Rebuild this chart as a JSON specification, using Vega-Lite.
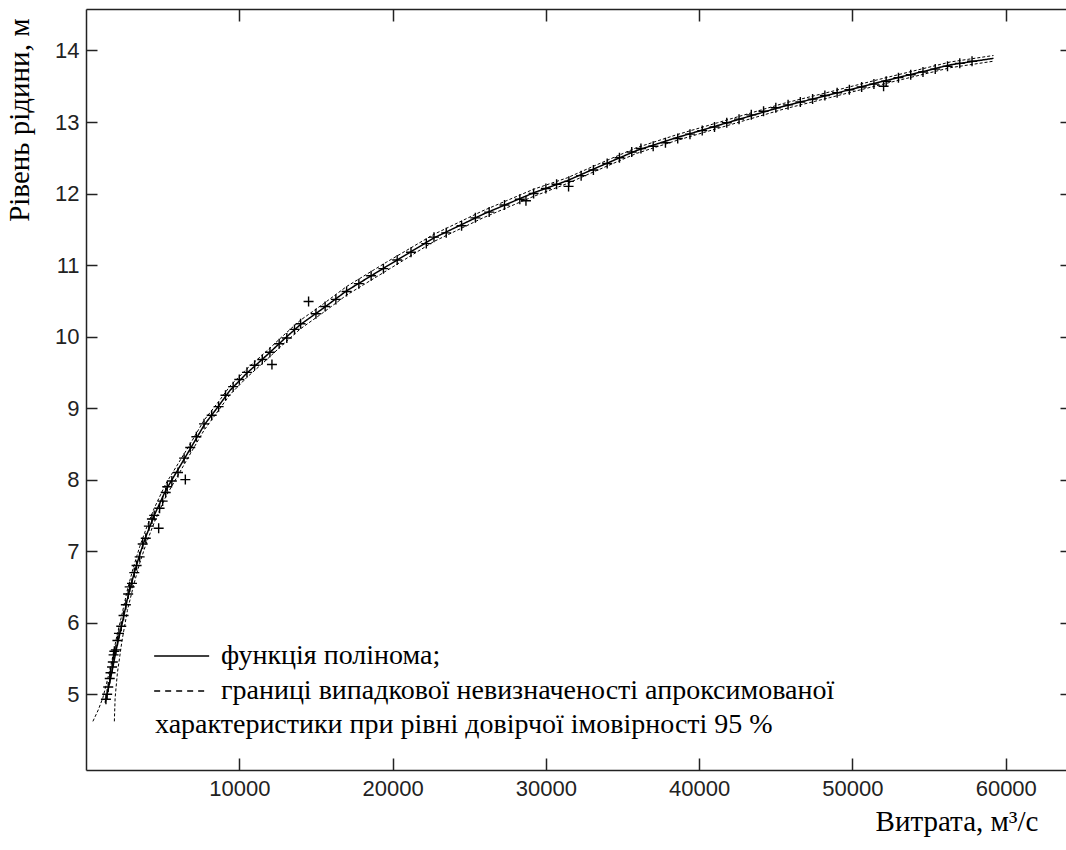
{
  "$schema": "https://vega.github.io/schema/vega-lite/v6.json",
  "width": 980,
  "height": 761,
  "autosize": "none",
  "padding": {"left": 86, "top": 9, "right": 0, "bottom": 80},
  "background": "white",
  "config": {
    "view": {"stroke": null},
    "axis": {"grid": false},
    "legend": {
      "labelFont": "Liberation Serif", "labelFontSize": 28, "labelColor": "black", "labelLimit": 0,
      "titleFont": "Liberation Serif", "titleFontSize": 28, "titleFontWeight": "normal", "titleColor": "black", "titleLimit": 0
    }
  },
  "datasets": {
    "curves": [
      {"part": "fit", "kind": "функція полінома;", "Q": 1250, "H": 4.88},
      {"part": "fit", "kind": "функція полінома;", "Q": 1450, "H": 5.07},
      {"part": "fit", "kind": "функція полінома;", "Q": 1700, "H": 5.32},
      {"part": "fit", "kind": "функція полінома;", "Q": 2000, "H": 5.65},
      {"part": "fit", "kind": "функція полінома;", "Q": 2350, "H": 5.98},
      {"part": "fit", "kind": "функція полінома;", "Q": 2700, "H": 6.33},
      {"part": "fit", "kind": "функція полінома;", "Q": 3100, "H": 6.66},
      {"part": "fit", "kind": "функція полінома;", "Q": 3500, "H": 6.95},
      {"part": "fit", "kind": "функція полінома;", "Q": 3900, "H": 7.2},
      {"part": "fit", "kind": "функція полінома;", "Q": 4450, "H": 7.5},
      {"part": "fit", "kind": "функція полінома;", "Q": 5200, "H": 7.85},
      {"part": "fit", "kind": "функція полінома;", "Q": 6000, "H": 8.14},
      {"part": "fit", "kind": "функція полінома;", "Q": 6800, "H": 8.43},
      {"part": "fit", "kind": "функція полінома;", "Q": 7700, "H": 8.76},
      {"part": "fit", "kind": "функція полінома;", "Q": 8650, "H": 9.03},
      {"part": "fit", "kind": "функція полінома;", "Q": 9400, "H": 9.25},
      {"part": "fit", "kind": "функція полінома;", "Q": 10500, "H": 9.49},
      {"part": "fit", "kind": "функція полінома;", "Q": 11800, "H": 9.74},
      {"part": "fit", "kind": "функція полінома;", "Q": 13000, "H": 9.98},
      {"part": "fit", "kind": "функція полінома;", "Q": 14000, "H": 10.17},
      {"part": "fit", "kind": "функція полінома;", "Q": 15500, "H": 10.4},
      {"part": "fit", "kind": "функція полінома;", "Q": 17000, "H": 10.64},
      {"part": "fit", "kind": "функція полінома;", "Q": 19600, "H": 10.98},
      {"part": "fit", "kind": "функція полінома;", "Q": 22700, "H": 11.38},
      {"part": "fit", "kind": "функція полінома;", "Q": 25900, "H": 11.71},
      {"part": "fit", "kind": "функція полінома;", "Q": 29200, "H": 12.01},
      {"part": "fit", "kind": "функція полінома;", "Q": 31400, "H": 12.18},
      {"part": "fit", "kind": "функція полінома;", "Q": 33300, "H": 12.36},
      {"part": "fit", "kind": "функція полінома;", "Q": 35900, "H": 12.6},
      {"part": "fit", "kind": "функція полінома;", "Q": 38500, "H": 12.78},
      {"part": "fit", "kind": "функція полінома;", "Q": 41200, "H": 12.95},
      {"part": "fit", "kind": "функція полінома;", "Q": 45500, "H": 13.22},
      {"part": "fit", "kind": "функція полінома;", "Q": 48500, "H": 13.38},
      {"part": "fit", "kind": "функція полінома;", "Q": 52000, "H": 13.57},
      {"part": "fit", "kind": "функція полінома;", "Q": 56400, "H": 13.8},
      {"part": "fit", "kind": "функція полінома;", "Q": 59200, "H": 13.89},
      {"part": "upper", "kind": "границі випадкової невизначеності апроксимованої", "Q": 450, "H": 4.62},
      {"part": "upper", "kind": "границі випадкової невизначеності апроксимованої", "Q": 800, "H": 4.78},
      {"part": "upper", "kind": "границі випадкової невизначеності апроксимованої", "Q": 1100, "H": 4.95},
      {"part": "upper", "kind": "границі випадкової невизначеності апроксимованої", "Q": 1400, "H": 5.2},
      {"part": "upper", "kind": "границі випадкової невизначеності апроксимованої", "Q": 1700, "H": 5.48},
      {"part": "upper", "kind": "границі випадкової невизначеності апроксимованої", "Q": 2000, "H": 5.8},
      {"part": "upper", "kind": "границі випадкової невизначеності апроксимованої", "Q": 2350, "H": 6.12},
      {"part": "upper", "kind": "границі випадкової невизначеності апроксимованої", "Q": 2700, "H": 6.46},
      {"part": "upper", "kind": "границі випадкової невизначеності апроксимованої", "Q": 3100, "H": 6.78},
      {"part": "upper", "kind": "границі випадкової невизначеності апроксимованої", "Q": 3500, "H": 7.06},
      {"part": "upper", "kind": "границі випадкової невизначеності апроксимованої", "Q": 3900, "H": 7.3},
      {"part": "upper", "kind": "границі випадкової невизначеності апроксимованої", "Q": 4450, "H": 7.6},
      {"part": "upper", "kind": "границі випадкової невизначеності апроксимованої", "Q": 5200, "H": 7.94},
      {"part": "upper", "kind": "границі випадкової невизначеності апроксимованої", "Q": 6000, "H": 8.22},
      {"part": "upper", "kind": "границі випадкової невизначеності апроксимованої", "Q": 6800, "H": 8.5},
      {"part": "upper", "kind": "границі випадкової невизначеності апроксимованої", "Q": 7700, "H": 8.83},
      {"part": "upper", "kind": "границі випадкової невизначеності апроксимованої", "Q": 8650, "H": 9.09},
      {"part": "upper", "kind": "границі випадкової невизначеності апроксимованої", "Q": 9400, "H": 9.31},
      {"part": "upper", "kind": "границі випадкової невизначеності апроксимованої", "Q": 10500, "H": 9.55},
      {"part": "upper", "kind": "границі випадкової невизначеності апроксимованої", "Q": 11800, "H": 9.8},
      {"part": "upper", "kind": "границі випадкової невизначеності апроксимованої", "Q": 13000, "H": 10.04},
      {"part": "upper", "kind": "границі випадкової невизначеності апроксимованої", "Q": 14000, "H": 10.23},
      {"part": "upper", "kind": "границі випадкової невизначеності апроксимованої", "Q": 15500, "H": 10.46},
      {"part": "upper", "kind": "границі випадкової невизначеності апроксимованої", "Q": 17000, "H": 10.7},
      {"part": "upper", "kind": "границі випадкової невизначеності апроксимованої", "Q": 19600, "H": 11.04},
      {"part": "upper", "kind": "границі випадкової невизначеності апроксимованої", "Q": 22700, "H": 11.43},
      {"part": "upper", "kind": "границі випадкової невизначеності апроксимованої", "Q": 25900, "H": 11.76},
      {"part": "upper", "kind": "границі випадкової невизначеності апроксимованої", "Q": 29200, "H": 12.06},
      {"part": "upper", "kind": "границі випадкової невизначеності апроксимованої", "Q": 31400, "H": 12.22},
      {"part": "upper", "kind": "границі випадкової невизначеності апроксимованої", "Q": 33300, "H": 12.4},
      {"part": "upper", "kind": "границі випадкової невизначеності апроксимованої", "Q": 35900, "H": 12.64},
      {"part": "upper", "kind": "границі випадкової невизначеності апроксимованої", "Q": 38500, "H": 12.82},
      {"part": "upper", "kind": "границі випадкової невизначеності апроксимованої", "Q": 41200, "H": 12.99},
      {"part": "upper", "kind": "границі випадкової невизначеності апроксимованої", "Q": 45500, "H": 13.26},
      {"part": "upper", "kind": "границі випадкової невизначеності апроксимованої", "Q": 48500, "H": 13.42},
      {"part": "upper", "kind": "границі випадкової невизначеності апроксимованої", "Q": 52000, "H": 13.61},
      {"part": "upper", "kind": "границі випадкової невизначеності апроксимованої", "Q": 56400, "H": 13.84},
      {"part": "upper", "kind": "границі випадкової невизначеності апроксимованої", "Q": 59200, "H": 13.93},
      {"part": "lower", "kind": "границі випадкової невизначеності апроксимованої", "Q": 1850, "H": 4.62},
      {"part": "lower", "kind": "границі випадкової невизначеності апроксимованої", "Q": 1900, "H": 4.95},
      {"part": "lower", "kind": "границі випадкової невизначеності апроксимованої", "Q": 2050, "H": 5.3},
      {"part": "lower", "kind": "границі випадкової невизначеності апроксимованої", "Q": 2350, "H": 5.75},
      {"part": "lower", "kind": "границі випадкової невизначеності апроксимованої", "Q": 2700, "H": 6.17},
      {"part": "lower", "kind": "границі випадкової невизначеності апроксимованої", "Q": 3100, "H": 6.52},
      {"part": "lower", "kind": "границі випадкової невизначеності апроксимованої", "Q": 3500, "H": 6.83},
      {"part": "lower", "kind": "границі випадкової невизначеності апроксимованої", "Q": 3900, "H": 7.09},
      {"part": "lower", "kind": "границі випадкової невизначеності апроксимованої", "Q": 4450, "H": 7.4},
      {"part": "lower", "kind": "границі випадкової невизначеності апроксимованої", "Q": 5200, "H": 7.76},
      {"part": "lower", "kind": "границі випадкової невизначеності апроксимованої", "Q": 6000, "H": 8.06},
      {"part": "lower", "kind": "границі випадкової невизначеності апроксимованої", "Q": 6800, "H": 8.36},
      {"part": "lower", "kind": "границі випадкової невизначеності апроксимованої", "Q": 7700, "H": 8.69},
      {"part": "lower", "kind": "границі випадкової невизначеності апроксимованої", "Q": 8650, "H": 8.97},
      {"part": "lower", "kind": "границі випадкової невизначеності апроксимованої", "Q": 9400, "H": 9.19},
      {"part": "lower", "kind": "границі випадкової невизначеності апроксимованої", "Q": 10500, "H": 9.43},
      {"part": "lower", "kind": "границі випадкової невизначеності апроксимованої", "Q": 11800, "H": 9.68},
      {"part": "lower", "kind": "границі випадкової невизначеності апроксимованої", "Q": 13000, "H": 9.92},
      {"part": "lower", "kind": "границі випадкової невизначеності апроксимованої", "Q": 14000, "H": 10.11},
      {"part": "lower", "kind": "границі випадкової невизначеності апроксимованої", "Q": 15500, "H": 10.34},
      {"part": "lower", "kind": "границі випадкової невизначеності апроксимованої", "Q": 17000, "H": 10.58},
      {"part": "lower", "kind": "границі випадкової невизначеності апроксимованої", "Q": 19600, "H": 10.92},
      {"part": "lower", "kind": "границі випадкової невизначеності апроксимованої", "Q": 22700, "H": 11.33},
      {"part": "lower", "kind": "границі випадкової невизначеності апроксимованої", "Q": 25900, "H": 11.66},
      {"part": "lower", "kind": "границі випадкової невизначеності апроксимованої", "Q": 29200, "H": 11.96},
      {"part": "lower", "kind": "границі випадкової невизначеності апроксимованої", "Q": 31400, "H": 12.14},
      {"part": "lower", "kind": "границі випадкової невизначеності апроксимованої", "Q": 33300, "H": 12.32},
      {"part": "lower", "kind": "границі випадкової невизначеності апроксимованої", "Q": 35900, "H": 12.56},
      {"part": "lower", "kind": "границі випадкової невизначеності апроксимованої", "Q": 38500, "H": 12.74},
      {"part": "lower", "kind": "границі випадкової невизначеності апроксимованої", "Q": 41200, "H": 12.91},
      {"part": "lower", "kind": "границі випадкової невизначеності апроксимованої", "Q": 45500, "H": 13.18},
      {"part": "lower", "kind": "границі випадкової невизначеності апроксимованої", "Q": 48500, "H": 13.34},
      {"part": "lower", "kind": "границі випадкової невизначеності апроксимованої", "Q": 52000, "H": 13.53},
      {"part": "lower", "kind": "границі випадкової невизначеності апроксимованої", "Q": 56400, "H": 13.76},
      {"part": "lower", "kind": "границі випадкової невизначеності апроксимованої", "Q": 59200, "H": 13.85}
    ],
    "points": [
      {"Q": 1300, "H": 4.93}, {"Q": 1380, "H": 5.0}, {"Q": 1450, "H": 5.1}, {"Q": 1550, "H": 5.22},
      {"Q": 1600, "H": 5.3}, {"Q": 1700, "H": 5.38}, {"Q": 1750, "H": 5.45}, {"Q": 1800, "H": 5.55},
      {"Q": 1850, "H": 5.6}, {"Q": 1950, "H": 5.62}, {"Q": 2050, "H": 5.75}, {"Q": 2150, "H": 5.85},
      {"Q": 2300, "H": 5.95}, {"Q": 2450, "H": 6.1}, {"Q": 2600, "H": 6.25}, {"Q": 2750, "H": 6.4},
      {"Q": 2850, "H": 6.5}, {"Q": 3000, "H": 6.55}, {"Q": 3150, "H": 6.7}, {"Q": 3300, "H": 6.8},
      {"Q": 3500, "H": 6.92}, {"Q": 3700, "H": 7.1}, {"Q": 3900, "H": 7.18}, {"Q": 4100, "H": 7.35},
      {"Q": 4300, "H": 7.45}, {"Q": 4450, "H": 7.5}, {"Q": 4740, "H": 7.32}, {"Q": 4800, "H": 7.6},
      {"Q": 5000, "H": 7.7}, {"Q": 5200, "H": 7.82}, {"Q": 5300, "H": 7.9}, {"Q": 5600, "H": 7.98},
      {"Q": 6000, "H": 8.1}, {"Q": 6480, "H": 8.0}, {"Q": 6400, "H": 8.3}, {"Q": 6800, "H": 8.45},
      {"Q": 7200, "H": 8.6}, {"Q": 7700, "H": 8.78}, {"Q": 8200, "H": 8.9}, {"Q": 8650, "H": 9.02},
      {"Q": 9100, "H": 9.18}, {"Q": 9600, "H": 9.3}, {"Q": 10000, "H": 9.4}, {"Q": 10500, "H": 9.5},
      {"Q": 11000, "H": 9.6}, {"Q": 11500, "H": 9.68}, {"Q": 12130, "H": 9.61}, {"Q": 12000, "H": 9.78},
      {"Q": 12600, "H": 9.9}, {"Q": 13100, "H": 9.98}, {"Q": 13600, "H": 10.1}, {"Q": 14000, "H": 10.18},
      {"Q": 14520, "H": 10.49}, {"Q": 15000, "H": 10.32}, {"Q": 15600, "H": 10.42}, {"Q": 16300, "H": 10.52},
      {"Q": 17000, "H": 10.63}, {"Q": 17800, "H": 10.74}, {"Q": 18600, "H": 10.85}, {"Q": 19400, "H": 10.95},
      {"Q": 20300, "H": 11.07}, {"Q": 21200, "H": 11.18}, {"Q": 22200, "H": 11.3}, {"Q": 22700, "H": 11.39},
      {"Q": 23500, "H": 11.45}, {"Q": 24500, "H": 11.55}, {"Q": 25400, "H": 11.66}, {"Q": 26300, "H": 11.74},
      {"Q": 27300, "H": 11.84}, {"Q": 28300, "H": 11.92}, {"Q": 28700, "H": 11.9}, {"Q": 29200, "H": 12.0},
      {"Q": 30000, "H": 12.07}, {"Q": 30700, "H": 12.13}, {"Q": 31480, "H": 12.1}, {"Q": 31500, "H": 12.17},
      {"Q": 32300, "H": 12.25}, {"Q": 33100, "H": 12.33}, {"Q": 34000, "H": 12.42}, {"Q": 34800, "H": 12.5},
      {"Q": 35600, "H": 12.58}, {"Q": 36200, "H": 12.63}, {"Q": 37000, "H": 12.66}, {"Q": 37800, "H": 12.71},
      {"Q": 38600, "H": 12.77}, {"Q": 39400, "H": 12.83}, {"Q": 40200, "H": 12.88}, {"Q": 41000, "H": 12.93},
      {"Q": 41800, "H": 12.99}, {"Q": 42600, "H": 13.04}, {"Q": 43400, "H": 13.1}, {"Q": 44200, "H": 13.15},
      {"Q": 45000, "H": 13.2}, {"Q": 45800, "H": 13.24}, {"Q": 46600, "H": 13.28}, {"Q": 47400, "H": 13.32},
      {"Q": 48200, "H": 13.37}, {"Q": 49000, "H": 13.41}, {"Q": 49800, "H": 13.45}, {"Q": 50600, "H": 13.49},
      {"Q": 51400, "H": 13.53}, {"Q": 52030, "H": 13.5}, {"Q": 52200, "H": 13.57}, {"Q": 53000, "H": 13.62},
      {"Q": 53800, "H": 13.66}, {"Q": 54600, "H": 13.7}, {"Q": 55400, "H": 13.74}, {"Q": 56200, "H": 13.78},
      {"Q": 57000, "H": 13.82}, {"Q": 57800, "H": 13.85}
    ]
  },
  "layer": [
    {
      "data": {"name": "curves"},
      "transform": [{"filter": "datum.part === 'fit'"}],
      "mark": {"type": "line", "color": "black", "strokeWidth": 1.5},
      "encoding": {
        "x": {
          "field": "Q", "type": "quantitative",
          "scale": {"domain": [0, 63930], "nice": false, "zero": false},
          "axis": {
            "orient": "bottom",
            "values": [10000, 20000, 30000, 40000, 50000, 60000], "format": "d",
            "tickSize": -12, "tickColor": "#222", "tickWidth": 1.5,
            "domainColor": "#222", "domainWidth": 1.5,
            "labelFont": "Liberation Sans", "labelFontSize": 22, "labelColor": "#222",
            "labelPadding": 20, "labelFlush": false, "labelOverlap": false,
            "title": "Витрата, м³/с",
            "titleFont": "Liberation Serif", "titleFontSize": 29, "titleFontWeight": "normal", "titleColor": "black",
            "titleX": 952, "titleY": 60, "titleAlign": "right", "titleBaseline": "alphabetic"
          }
        },
        "y": {
          "field": "H", "type": "quantitative",
          "scale": {"domain": [3.94, 14.58], "nice": false, "zero": false},
          "axis": {
            "orient": "left",
            "values": [5, 6, 7, 8, 9, 10, 11, 12, 13, 14],
            "tickSize": -11, "tickColor": "#222", "tickWidth": 1.5,
            "domainColor": "#222", "domainWidth": 1.5,
            "labelFont": "Liberation Sans", "labelFontSize": 22, "labelColor": "#222",
            "labelPadding": 18, "labelFlush": false, "labelOverlap": false,
            "title": "Рівень рідини, м",
            "titleFont": "Liberation Serif", "titleFontSize": 29, "titleFontWeight": "normal", "titleColor": "black",
            "titleAngle": 270, "titleX": -58, "titleY": 9, "titleAlign": "right", "titleBaseline": "alphabetic"
          }
        },
        "strokeDash": {
          "field": "kind", "type": "nominal",
          "scale": {
            "domain": ["функція полінома;", "границі випадкової невизначеності апроксимованої"],
            "range": [[1, 0], [6, 5]]
          },
          "legend": {
            "orient": "none", "legendX": 69, "legendY": 633, "direction": "vertical", "padding": 0,
            "symbolType": "M-2.7,0H7.3", "symbolSize": 121, "symbolStrokeWidth": 1.3,
            "symbolStrokeColor": "black", "symbolFillColor": "transparent",
            "labelFont": "Liberation Serif", "labelFontSize": 28, "labelColor": "black",
            "labelOffset": 38, "labelLimit": 0, "rowPadding": 7,
            "title": "характеристики при рівні довірчої імовірності 95 %",
            "titleOrient": "bottom", "titleAnchor": "start",
            "titleFont": "Liberation Serif", "titleFontSize": 28, "titleFontWeight": "normal",
            "titleColor": "black", "titleLimit": 0, "titlePadding": 6,
            "encode": {
              "labels": {"update": {"font": {"value": "Liberation Serif"}}},
              "title": {"update": {"font": {"value": "Liberation Serif"}}}
            }
          }
        }
      }
    },
    {
      "data": {"name": "curves"},
      "transform": [{"filter": "datum.part !== 'fit'"}],
      "mark": {"type": "line", "color": "black", "strokeWidth": 1, "strokeDash": [3, 2]},
      "encoding": {
        "x": {"field": "Q", "type": "quantitative", "axis": null},
        "y": {"field": "H", "type": "quantitative", "axis": null},
        "detail": {"field": "part"}
      }
    },
    {
      "data": {"name": "points"},
      "mark": {"type": "point", "shape": "M-1,0H1M0,-1V1", "size": 100, "filled": false, "stroke": "black", "strokeWidth": 1.4, "opacity": 1},
      "encoding": {
        "x": {
          "field": "Q", "type": "quantitative",
          "axis": {
            "orient": "top", "values": [10000, 20000, 30000, 40000, 50000, 60000],
            "labels": false, "title": null, "tickSize": -12, "tickColor": "#222", "tickWidth": 1.5,
            "domainColor": "#222", "domainWidth": 1.5
          }
        },
        "y": {
          "field": "H", "type": "quantitative",
          "axis": {
            "orient": "right", "values": [5, 6, 7, 8, 9, 10, 11, 12, 13, 14],
            "labels": false, "title": null, "tickSize": -6, "tickColor": "#222", "tickWidth": 1.5,
            "domain": false
          }
        }
      }
    }
  ]
}
